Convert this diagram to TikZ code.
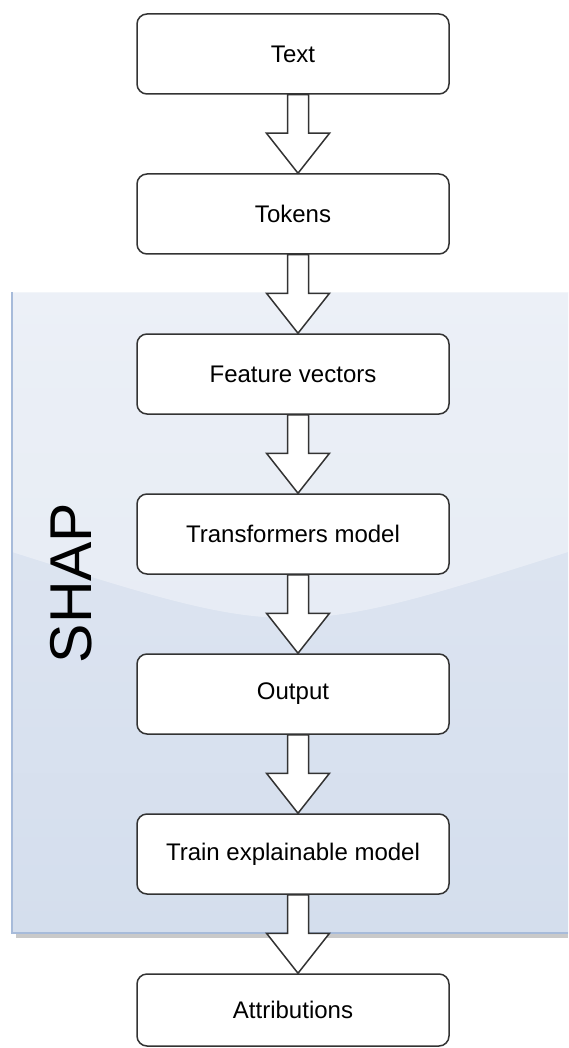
\documentclass[tikz,border=0pt]{standalone}
\usepackage{fontspec}
\setmainfont{Liberation Sans}
\definecolor{panelTop}{HTML}{E2E8F3}
\definecolor{panelBot}{HTML}{D4DEED}
\definecolor{panelEdge}{HTML}{A7BBDA}
\definecolor{ink}{HTML}{333333}
\begin{document}
\begin{tikzpicture}[x=1pt,y=-1pt,
  stage/.style={draw=ink,line width=1.5pt,rounded corners=10pt,fill=white,
    minimum width=312pt,minimum height=80pt,inner sep=0pt,
    font=\fontsize{24}{28}\selectfont},
  flow/.style={draw=ink,line width=1.5pt,fill=white,line join=miter}]
\newcommand{\Flow}[2]{\draw[flow]([xshift=-5.5pt]#1.south)--([xshift=-5.5pt,yshift=40pt]#2.north)
--([xshift=-26.5pt,yshift=40pt]#2.north)--([xshift=5pt]#2.north)
--([xshift=36.5pt,yshift=40pt]#2.north)--([xshift=15.5pt,yshift=40pt]#2.north)
--([xshift=15.5pt]#1.south)--cycle;}
\useasboundingbox(0,0)rectangle(568,1048);
% SHAP panel with shadow and glass
\fill[black!21](16,297)rectangle(568,938);
\shade[top color=panelTop,bottom color=panelBot](12,292)rectangle(568,933);
\fill[white,opacity=.35](12,292)--(568,292)--(568,552)..controls(290,640)..(12,552)--cycle;
\draw[white!85!panelEdge,line width=1pt](12,292)--(568,292);
\draw[panelEdge,line width=1.5pt](12,292)|-(568,933);
\node[rotate=90,inner sep=0,font=\fontsize{59}{60}\selectfont]at(71,583){SHAP};
% stages
\node[stage](text)at(293,54){Text};
\node[stage](tokens)at(293,214){Tokens};
\node[stage](feat)at(293,374){Feature vectors};
\node[stage](model)at(293,534){Transformers model};
\node[stage](output)at(293,694){Output};
\node[stage](train)at(293,854){Train explainable model};
\node[stage,minimum height=72pt](attr)at(293,1010){Attributions};
% hollow arrows
\Flow{text}{tokens}
\Flow{tokens}{feat}
\Flow{feat}{model}
\Flow{model}{output}
\Flow{output}{train}
\Flow{train}{attr}
\end{tikzpicture}
\end{document}
